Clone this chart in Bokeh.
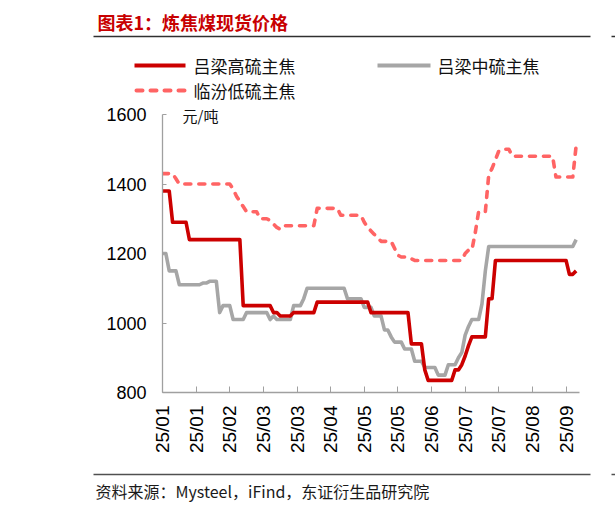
import math
from bokeh.plotting import figure
from bokeh.models import Range1d, FixedTicker, Label
from bokeh.core.properties import value
from bokeh.embed import file_html
from bokeh.resources import INLINE

# ---------------- data ----------------
tick_labels = ["25/01", "25/01", "25/02", "25/03", "25/03", "25/04", "25/05",
               "25/05", "25/06", "25/07", "25/07", "25/08", "25/09"]
tick_positions = [0, 10, 20, 30, 40, 50, 60, 70, 80, 90, 100, 110, 120]

lvliang_high = [
    1380, 1380, 1380, 1290, 1290, 1290, 1290, 1290, 1240, 1240,
    1240, 1240, 1240, 1240, 1240, 1240, 1240, 1240, 1240, 1240,
    1240, 1240, 1240, 1240, 1050, 1050, 1050, 1050, 1050, 1050,
    1050, 1050, 1050, 1030, 1030, 1020, 1020, 1020, 1020, 1030,
    1030, 1030, 1030, 1030, 1030, 1030, 1060, 1060, 1060, 1060,
    1060, 1060, 1060, 1060, 1060, 1060, 1060, 1060, 1060, 1060,
    1060, 1060, 1030, 1030, 1030, 1030, 1030, 1030, 1030, 1030,
    1030, 1030, 1030, 1030, 940, 940, 940, 940, 865, 835,
    835, 835, 835, 835, 835, 835, 835, 865, 865, 880,
    905, 935, 960, 960, 960, 960, 960, 1070, 1070, 1180,
    1180, 1180, 1180, 1180, 1180, 1180, 1180, 1180, 1180, 1180,
    1180, 1180, 1180, 1180, 1180, 1180, 1180, 1180, 1180, 1180,
    1180, 1140, 1140, 1150,
]

lvliang_mid = [
    1200, 1200, 1150, 1150, 1150, 1110, 1110, 1110, 1110, 1110,
    1110, 1110, 1115, 1115, 1120, 1120, 1120, 1030, 1050, 1050,
    1050, 1010, 1010, 1010, 1010, 1030, 1030, 1030, 1030, 1030,
    1030, 1030, 1010, 1020, 1010, 1010, 1010, 1010, 1010, 1050,
    1050, 1050, 1070, 1100, 1100, 1100, 1100, 1100, 1100, 1100,
    1100, 1100, 1100, 1100, 1100, 1070, 1070, 1070, 1070, 1070,
    1045, 1045, 1045, 1020, 1020, 1020, 980, 980, 960, 945,
    945, 945, 925, 925, 925, 890, 890, 890, 872, 872,
    872, 872, 850, 850, 850, 880, 880, 880, 900, 915,
    965, 990, 1010, 1010, 1010, 1055, 1150, 1220, 1220, 1220,
    1220, 1220, 1220, 1220, 1220, 1220, 1220, 1220, 1220, 1220,
    1220, 1220, 1220, 1220, 1220, 1220, 1220, 1220, 1220, 1220,
    1220, 1220, 1220, 1240,
]

linfen_low = [
    1430, 1430, 1430, 1430, 1415, 1400, 1400, 1400, 1400, 1400,
    1400, 1400, 1400, 1400, 1400, 1400, 1400, 1400, 1400, 1400,
    1400, 1385, 1365, 1350, 1335, 1320, 1320, 1320, 1320, 1300,
    1300, 1300, 1295, 1285, 1275, 1270, 1280, 1280, 1280, 1280,
    1280, 1280, 1280, 1280, 1280, 1280, 1330, 1330, 1330, 1330,
    1330, 1330, 1330, 1310, 1310, 1310, 1310, 1310, 1310, 1310,
    1290, 1275, 1265, 1255, 1245, 1235, 1235, 1235, 1235, 1215,
    1195, 1190, 1190, 1185, 1185, 1180, 1180, 1180, 1180, 1180,
    1180, 1180, 1180, 1180, 1180, 1180, 1180, 1180, 1180, 1180,
    1200, 1210, 1210, 1260, 1320, 1320, 1320, 1425, 1445, 1470,
    1495, 1500, 1500, 1500, 1480, 1480, 1480, 1480, 1480, 1480,
    1480, 1480, 1480, 1480, 1480, 1480, 1480, 1420, 1420, 1420,
    1420, 1420, 1420, 1510,
]

series_names = ["吕梁高硫主焦", "吕梁中硫主焦", "临汾低硫主焦"]
y_ticks = [800, 1000, 1200, 1400, 1600]
title_text = "图表1：炼焦煤现货价格"
unit_text = "元/吨"
source_text = "资料来源：Mysteel，iFind，东证衍生品研究院"

# ---------------- layout constants (pixels) ----------------
W = 615
TOP_H = 103          # header strip: title, rule, legend
BOT_H = 44           # footer strip: rule, source
MAIN_H = 509 - TOP_H - BOT_H
FRAME_L = 162        # y axis position
FRAME_R = 579        # x axis end
Y1600_PX = 114       # pixel row of the top tick within the page
Y800_PX = 392        # pixel row of the x axis within the page

CJK = "Noto Sans CJK SC"
RED = "#CC0000"
GREY = "#A6A6A6"
PINK = "#FF6464"
AX = "#A0A0A0"
LW = 3.6


def strip(height, top):
    f = figure(width=W, height=height, output_backend="svg", toolbar_location=None,
               x_range=Range1d(0, W), y_range=Range1d(top + height, top),
               x_axis_type=None, y_axis_type=None,
               min_border=0, min_border_left=0, min_border_right=0,
               min_border_top=0, min_border_bottom=0)
    f.outline_line_color = None
    f.background_fill_color = "white"
    f.border_fill_color = "white"
    return f


# ---------------- header ----------------
top = strip(TOP_H, 0)
top.text(x=[97], y=[21], text=[title_text], text_font=value(CJK),
         text_font_size=value("18px"), text_font_style="bold",
         text_color="#C80000", text_align="left", text_baseline="middle")
top.segment(x0=[93], y0=[36], x1=[590], y1=[36], line_color="#303030", line_width=1.3)
top.segment(x0=[611], y0=[36], x1=[615], y1=[36], line_color="#303030", line_width=1.3)
top.segment(x0=[134], y0=[65], x1=[185], y1=[65], line_color=RED, line_width=4)
top.segment(x0=[377], y0=[65], x1=[430], y1=[65], line_color=GREY, line_width=4)
top.segment(x0=[136], y0=[90], x1=[185], y1=[90], line_color=PINK, line_width=4,
            line_dash="6 8", line_cap="round")
top.text(x=[193, 437, 193], y=[65, 65, 90], text=series_names, text_font=value(CJK),
         text_font_size=value("17px"), text_color="#111111",
         text_align="left", text_baseline="middle")

# ---------------- main chart ----------------
n = len(lvliang_high)
xs = list(range(n))
px_per_unit = (Y800_PX - Y1600_PX) / (y_ticks[-1] - y_ticks[0])
y_top = y_ticks[-1] + (Y1600_PX - TOP_H) / px_per_unit

p = figure(width=W, height=MAIN_H, output_backend="svg", toolbar_location=None,
           x_range=Range1d(0, n), y_range=Range1d(y_ticks[0], y_top),
           min_border_left=FRAME_L, min_border_right=W - FRAME_R,
           min_border_top=0, min_border_bottom=TOP_H + MAIN_H - Y800_PX)
p.outline_line_color = None
p.xgrid.visible = False
p.ygrid.visible = False
p.background_fill_color = "white"
p.border_fill_color = "white"

p.line(xs, linfen_low, line_color=PINK, line_width=LW, line_dash="6 8",
       line_cap="round", line_join="round")
p.line(xs, lvliang_mid, line_color=GREY, line_width=LW, line_join="round")
p.line(xs, lvliang_high, line_color=RED, line_width=LW, line_join="round")

xa = p.xaxis[0]
xa.ticker = FixedTicker(ticks=tick_positions)
xa.major_label_overrides = {t: l for t, l in zip(tick_positions, tick_labels)}
xa.major_label_orientation = math.pi / 2
xa.major_tick_in = 6
xa.major_tick_out = 0
xa.minor_tick_in = 0
xa.minor_tick_out = 0
xa.axis_line_color = AX
xa.major_tick_line_color = AX
xa.axis_line_width = 1.3
xa.major_label_standoff = 13
xa.major_label_text_font = "Liberation Sans"
xa.major_label_text_font_size = "19px"
xa.major_label_text_color = "black"

ya = p.yaxis[0]
ya.ticker = FixedTicker(ticks=y_ticks)
ya.bounds = (y_ticks[0], y_ticks[-1])
ya.major_tick_in = 4
ya.major_tick_out = 0
ya.minor_tick_in = 0
ya.minor_tick_out = 0
ya.axis_line_color = AX
ya.major_tick_line_color = AX
ya.axis_line_width = 1.3
ya.major_label_standoff = 16
ya.major_label_text_font = "Liberation Sans"
ya.major_label_text_font_size = "18px"
ya.major_label_text_color = "black"

# unit label (inside the frame, above the top tick)
p.add_layout(Label(x=182 - FRAME_L, y=Y800_PX - 114.5, x_units="screen", y_units="screen",
                   text=unit_text, text_font=CJK, text_font_size="15px",
                   text_color="#111111", text_align="left", text_baseline="middle"))

# ---------------- footer ----------------
bot = strip(BOT_H, TOP_H + MAIN_H)
bot.segment(x0=[93], y0=[474], x1=[590], y1=[474], line_color="#505050", line_width=1.3)
bot.segment(x0=[611], y0=[474], x1=[615], y1=[474], line_color="#505050", line_width=1.3)
bot.text(x=[95], y=[490], text=[source_text], text_font=value(CJK),
         text_font_size=value("16px"), text_color="#1a1a1a",
         text_align="left", text_baseline="middle")

# three independent roots, stacked top to bottom on the page
open("out.html", "w").write(file_html([top, p, bot], INLINE))
